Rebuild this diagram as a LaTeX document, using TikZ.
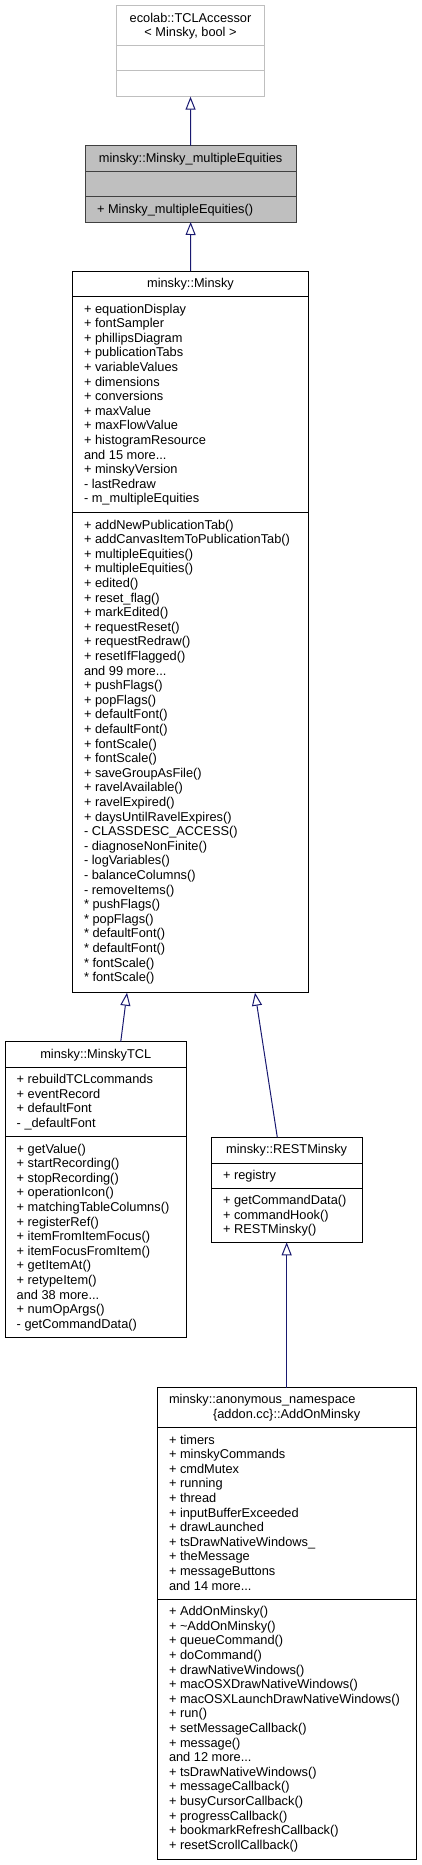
\documentclass[tikz,border=0pt]{standalone}
\usepackage{fontspec}
\setmainfont{Liberation Sans}
\usetikzlibrary{arrows.meta}
\definecolor{arrowblue}{HTML}{191970}
\definecolor{hlfill}{HTML}{BFBFBF}
\definecolor{hlborder}{HTML}{404040}
\definecolor{greyborder}{HTML}{BFBFBF}
\begin{document}
\begin{tikzpicture}[x=1pt,y=-1pt,
  box/.style={draw=black, line width=1pt, inner sep=0pt, outer sep=0pt, anchor=north west},
  div/.style={draw=black, line width=1pt},
  txt/.style={inner sep=0pt, align=left, anchor=north west, font=\fontsize{12.8}{14.6}\selectfont},
  ttl/.style={inner sep=0pt, align=center, anchor=north, font=\fontsize{12.8}{14.6}\selectfont},
  inh/.style={draw=arrowblue, line width=1pt, -{Triangle[open, length=13pt, width=10pt]}}
]
\useasboundingbox (0,0) rectangle (421,1865);

% ---- ecolab::TCLAccessor ----
\node[box, draw=greyborder, minimum width=147.6pt, minimum height=91pt] (tcl) at (116.7,5.7) {};
\draw[div, draw=greyborder] (116.7,45.7) -- (264.3,45.7);
\draw[div, draw=greyborder] (116.7,71) -- (264.3,71);
\node[ttl] (tclt) at (190.5,11.7) {\strut ecolab::TCLAccessor\\< Minsky, bool >};

% ---- minsky::Minsky_multipleEquities ----
\node[box, draw=hlborder, fill=hlfill, minimum width=210.7pt, minimum height=76.3pt] (me) at (85.3,145.7) {};
\draw[div, draw=hlborder] (85.3,171.7) -- (296,171.7);
\draw[div, draw=hlborder] (85.3,196.7) -- (296,196.7);
\node[ttl] (met) at (190.65,151.7) {\strut minsky::Minsky\_multipleEquities};
\node[txt] (mem) at (96.8,202.7) {\strut + Minsky\_multipleEquities()};

% ---- minsky::Minsky ----
\node[box, minimum width=236.4pt, minimum height=721.7pt] (minsky) at (72.3,271) {};
\draw[div] (72.3,296.7) -- (308.7,296.7);
\draw[div] (72.3,512.7) -- (308.7,512.7);
\node[ttl] (minskyt) at (190.5,277) {\strut minsky::Minsky};
\node[txt] (minskya) at (83.8,302.7) {\strut + equationDisplay\\
+ fontSampler\\
+ phillipsDiagram\\
+ publicationTabs\\
+ variableValues\\
+ dimensions\\
+ conversions\\
+ maxValue\\
+ maxFlowValue\\
+ histogramResource\\
and 15 more...\\
+ minskyVersion\\
- lastRedraw\\
- m\_multipleEquities};
\node[txt] (minskym) at (83.8,518.7) {\strut + addNewPublicationTab()\\
+ addCanvasItemToPublicationTab()\\
+ multipleEquities()\\
+ multipleEquities()\\
+ edited()\\
+ reset\_flag()\\
+ markEdited()\\
+ requestReset()\\
+ requestRedraw()\\
+ resetIfFlagged()\\
and 99 more...\\
+ pushFlags()\\
+ popFlags()\\
+ defaultFont()\\
+ defaultFont()\\
+ fontScale()\\
+ fontScale()\\
+ saveGroupAsFile()\\
+ ravelAvailable()\\
+ ravelExpired()\\
+ daysUntilRavelExpires()\\
- CLASSDESC\_ACCESS()\\
- diagnoseNonFinite()\\
- logVariables()\\
- balanceColumns()\\
- removeItems()\\
* pushFlags()\\
* popFlags()\\
* defaultFont()\\
* defaultFont()\\
* fontScale()\\
* fontScale()};

% ---- minsky::MinskyTCL ----
\node[box, minimum width=181.5pt, minimum height=296pt] (mtcl) at (5,1041.7) {};
\draw[div] (5,1067.3) -- (186.5,1067.3);
\draw[div] (5,1136.7) -- (186.5,1136.7);
\node[ttl] (mtclt) at (95.75,1047.7) {\strut minsky::MinskyTCL};
\node[txt] (mtcla) at (16.5,1073.3) {\strut + rebuildTCLcommands\\
+ eventRecord\\
+ defaultFont\\
- \_defaultFont};
\node[txt] (mtclm) at (16.5,1142.7) {\strut + getValue()\\
+ startRecording()\\
+ stopRecording()\\
+ operationIcon()\\
+ matchingTableColumns()\\
+ registerRef()\\
+ itemFromItemFocus()\\
+ itemFocusFromItem()\\
+ getItemAt()\\
+ retypeItem()\\
and 38 more...\\
+ numOpArgs()\\
- getCommandData()};

% ---- minsky::RESTMinsky ----
\node[box, minimum width=150.7pt, minimum height=105pt] (rest) at (211.3,1137.3) {};
\draw[div] (211.3,1163) -- (362,1163);
\draw[div] (211.3,1188) -- (362,1188);
\node[ttl] (restt) at (286.65,1143.3) {\strut minsky::RESTMinsky};
\node[txt] (resta) at (222.8,1169) {\strut + registry};
\node[txt] (restm) at (222.8,1194) {\strut + getCommandData()\\
+ commandHook()\\
+ RESTMinsky()};

% ---- minsky::anonymous_namespace{addon.cc}::AddOnMinsky ----
\node[box, minimum width=258.7pt, minimum height=472pt] (add) at (157.3,1387.5) {};
\draw[div] (157.3,1427.7) -- (416,1427.7);
\draw[div] (157.3,1599.3) -- (416,1599.3);
\node[txt] (addt1) at (168.8,1393.5) {\strut minsky::anonymous\_namespace};
\node[ttl] (addt2) at (286.65,1408.1) {\strut \{addon.cc\}::AddOnMinsky};
\node[txt] (adda) at (168.8,1433.7) {\strut + timers\\
+ minskyCommands\\
+ cmdMutex\\
+ running\\
+ thread\\
+ inputBufferExceeded\\
+ drawLaunched\\
+ tsDrawNativeWindows\_\\
+ theMessage\\
+ messageButtons\\
and 14 more...};
\node[txt] (addm) at (168.8,1605.3) {\strut + AddOnMinsky()\\
+ \textasciitilde AddOnMinsky()\\
+ queueCommand()\\
+ doCommand()\\
+ drawNativeWindows()\\
+ macOSXDrawNativeWindows()\\
+ macOSXLaunchDrawNativeWindows()\\
+ run()\\
+ setMessageCallback()\\
+ message()\\
and 12 more...\\
+ tsDrawNativeWindows()\\
+ messageCallback()\\
+ busyCursorCallback()\\
+ progressCallback()\\
+ bookmarkRefreshCallback()\\
+ resetScrollCallback()};

% ---- inheritance connectors ----
\draw[inh] (me.north) -- (tcl.south);
\draw[inh] (minsky.north) -- (me.south);
\draw[inh] ([xshift=25pt]mtcl.north) -- ([xshift=-63.5pt]minsky.south);
\draw[inh] ([xshift=-9.35pt]rest.north) -- ([xshift=64.5pt]minsky.south);
\draw[inh] (add.north) -- (rest.south);
\end{tikzpicture}
\end{document}
